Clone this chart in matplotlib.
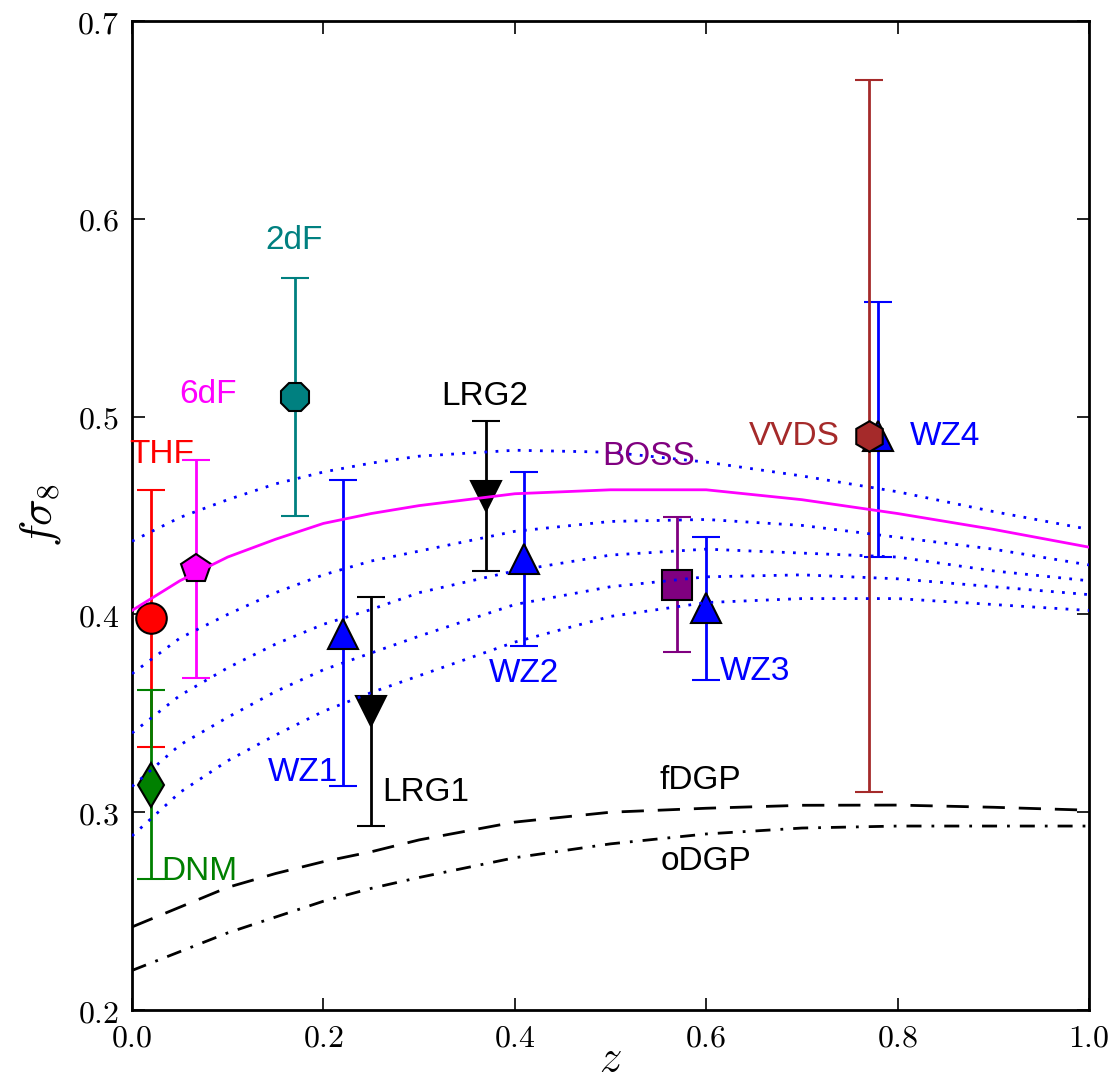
import numpy as np
import matplotlib
matplotlib.use('Agg')
import matplotlib.pyplot as plt
from matplotlib.ticker import FuncFormatter

plt.rcParams['mathtext.fontset'] = 'cm'

# growth-rate measurements
names = ['THF', '6dF', '2dF', 'DNM', 'LRG1', 'LRG2', 'WZ1', 'WZ2', 'WZ3', 'WZ4', 'BOSS', 'VVDS']
z_data = [0.02, 0.067, 0.17, 0.02, 0.25, 0.37, 0.22, 0.41, 0.60, 0.78, 0.57, 0.77]
fs8_data = [0.398, 0.423, 0.51, 0.314, 0.351, 0.460, 0.39, 0.428, 0.403, 0.490, 0.415, 0.49]
err_lo = [0.065, 0.055, 0.06, 0.048, 0.058, 0.038, 0.077, 0.044, 0.036, 0.061, 0.034, 0.18]
err_hi = [0.065, 0.055, 0.06, 0.048, 0.058, 0.038, 0.078, 0.044, 0.036, 0.068, 0.034, 0.18]
markers = ['o', 'p', '8', 'd', 'v', 'v', '^', '^', '^', '^', 's', 'h']
colors = ['#ff0000', '#ff00ff', '#008080', '#008000', 'k', 'k',
          '#0000ff', '#0000ff', '#0000ff', '#0000ff', '#800080', '#a52a2a']

# label positions (z, fsigma8)
lab_z = [0.031, 0.079, 0.169, 0.070, 0.307, 0.369, 0.179, 0.410, 0.651, 0.850, 0.540, 0.692]
lab_y = [0.481, 0.511, 0.589, 0.270, 0.310, 0.510, 0.320, 0.370, 0.371, 0.490, 0.480, 0.490]

# model curves
z_curve = [0.0, 0.05, 0.1, 0.15, 0.2, 0.25, 0.3, 0.4, 0.5, 0.6, 0.7, 0.8, 0.9, 1.0]
lcdm = [0.402, 0.417, 0.429, 0.438, 0.446, 0.451, 0.455, 0.461, 0.463, 0.463, 0.458, 0.451, 0.443, 0.434]
dotted = [
    [0.437, 0.449, 0.458, 0.466, 0.472, 0.4765, 0.480, 0.483, 0.482, 0.477, 0.470, 0.462, 0.452, 0.443],
    [0.370, 0.388, 0.400, 0.411, 0.420, 0.427, 0.432, 0.442, 0.447, 0.448, 0.445, 0.439, 0.433, 0.425],
    [0.340, 0.359, 0.373, 0.385, 0.395, 0.4025, 0.411, 0.422, 0.430, 0.433, 0.431, 0.429, 0.422, 0.417],
    [0.313, 0.334, 0.348, 0.361, 0.372, 0.3805, 0.389, 0.405, 0.414, 0.419, 0.420, 0.418, 0.414, 0.410],
    [0.288, 0.310, 0.326, 0.339, 0.351, 0.3605, 0.369, 0.386, 0.399, 0.406, 0.408, 0.408, 0.405, 0.402],
]
fdgp = [0.242, 0.252, 0.262, 0.269, 0.275, 0.280, 0.286, 0.295, 0.300, 0.302, 0.3035, 0.3036, 0.3025, 0.301]
odgp = [0.220, 0.2295, 0.239, 0.247, 0.255, 0.2615, 0.267, 0.277, 0.284, 0.289, 0.292, 0.293, 0.293, 0.293]


def main():
    fig = plt.figure(figsize=(11.16, 10.83), dpi=100)
    ax = fig.add_axes([0.1183, 0.0674, 0.8575, 0.9132])

    for i in range(len(names)):
        ax.errorbar(z_data[i], fs8_data[i], yerr=[[err_lo[i]], [err_hi[i]]],
                    fmt=markers[i], color=colors[i], mfc=colors[i], mec='k', mew=1.5,
                    ms=22, elinewidth=2, capsize=10, capthick=1.5, zorder=3)
        ax.text(lab_z[i], lab_y[i], names[i], color=colors[i], fontsize=24,
                family='Liberation Sans', ha='center', va='center', zorder=5)

    ax.plot(z_curve, lcdm, '-', color='#ff00ff', lw=2, zorder=4)
    for d in dotted:
        ax.plot(z_curve, d, ':', color='#0000ff', lw=2, dashes=(1, 3), zorder=4)
    ax.plot(z_curve, fdgp, '--', color='k', lw=2, dashes=(8, 5), zorder=4)
    ax.plot(z_curve, odgp, '-.', color='k', lw=2, dashes=(5.4, 3.6, 1, 3.6), zorder=4)

    ax.text(0.5935, 0.3158, 'fDGP', fontsize=24, family='Liberation Sans', ha='center', va='center')
    ax.text(0.600, 0.2753, 'oDGP', fontsize=24, family='Liberation Sans', ha='center', va='center')

    ax.set_xlim(0, 1.0)
    ax.set_ylim(0.2, 0.7)
    ax.set_xticks(np.arange(0, 1.01, 0.2))
    ax.set_yticks(np.arange(0.2, 0.71, 0.1))
    fmt = FuncFormatter(lambda v, p: r'$%.1f$' % v)
    ax.xaxis.set_major_formatter(fmt)
    ax.yaxis.set_major_formatter(fmt)
    ax.tick_params(direction='in', length=9, width=1.2, labelsize=23, pad=9,
                   top=True, right=True)
    for s in ax.spines.values():
        s.set_linewidth(2)

    ax.set_xlabel(r'$z$', fontsize=32, labelpad=-12)
    ax.set_ylabel(r'$f\sigma_8$', fontsize=32, labelpad=10)

    fig.savefig('out.png', dpi=100)


if __name__ == '__main__':
    main()
